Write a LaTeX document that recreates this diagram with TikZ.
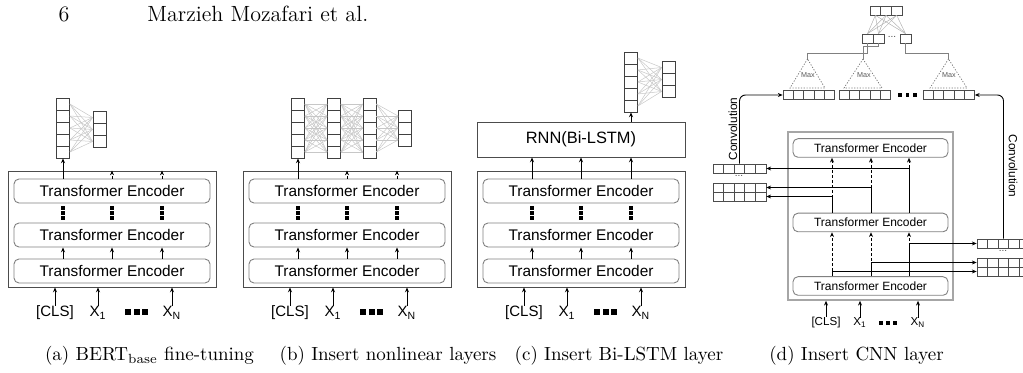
\documentclass[tikz,border=0pt]{standalone}
\usepackage{fontspec}
\newfontfamily\netfont{Liberation Sans}
\usetikzlibrary{arrows.meta}

\tikzset{
  encoder/.style={draw=black!50, rounded corners=2.5pt, minimum width=98pt,
    minimum height=12pt, inner sep=0pt, font=\netfont\fontsize{7.7}{9}\selectfont},
  smallenc/.style={encoder, minimum width=77.5pt, minimum height=9.3pt,
    font=\netfont\fontsize{6}{7}\selectfont},
  frame/.style={draw=black!70, line width=0.45pt, minimum width=104pt,
    minimum height=58pt, inner sep=0pt},
  cell/.style={draw=black!75, line width=0.4pt, minimum width=6.5pt,
    minimum height=6pt, inner sep=0pt},
  mcell/.style={draw=black!70, line width=0.35pt, minimum width=5.3pt,
    minimum height=4.5pt, inner sep=0pt},
  fcell/.style={mcell, minimum width=5.15pt},
  tcell/.style={mcell, minimum width=5.35pt},
  link/.style={draw=black!22, line width=0.25pt},
  vdot/.style={fill=black, inner sep=0pt, minimum width=1.7pt, minimum height=2pt},
  hdot/.style={fill=black, inner sep=0pt, minimum width=3pt, minimum height=2.6pt},
  sdot/.style={fill=black, inner sep=0pt, minimum width=1.8pt, minimum height=2pt},
  inlabel/.style={inner sep=0pt, font=\netfont\fontsize{7.5}{9}\selectfont},
  sinlabel/.style={inner sep=0pt, font=\netfont\fontsize{5.8}{7}\selectfont},
  convlabel/.style={inner sep=0pt, font=\netfont\fontsize{5.9}{7}\selectfont},
  maxlabel/.style={inner sep=0pt, text=black!65, font=\netfont\fontsize{3.6}{4}\selectfont},
  maxtri/.style={draw=black!55, line width=0.35pt, dash pattern=on 0.6pt off 0.8pt},
  pool/.style={draw=black!50, line width=0.4pt},
  dashline/.style={dash pattern=on 1.5pt off 1pt},
  caption/.style={inner sep=0pt, font=\fontsize{9.5}{11}\selectfont},
}

\begin{document}
\begin{tikzpicture}[x=0.5pt, y=-0.5pt, line width=0.45pt,
  >={Stealth[length=2.4pt, width=2pt]}]
\useasboundingbox (0,0) rectangle (1023,373);

% running head
\node[inner sep=0pt, font=\fontsize{11}{13}\selectfont] (pageno) at (64,14) {6};
\node[anchor=west, inner sep=0pt, font=\fontsize{11}{13}\selectfont] (runhead) at (147,14) {Marzieh Mozafari et al.};

% encoder stacks of (a), (b) and (c)
\foreach \s/\p in {8/a,243/b,477/c}{
  \begin{scope}[shift={(\s,0)}]
    \coordinate (\p-c1) at (55,0);
    \coordinate (\p-c2) at (104,0);
    \coordinate (\p-c3) at (154,0);
    \node[frame] (\p-box) at (104,229) {};
    \node[encoder] (\p-e1) at (104,271) {Transformer Encoder};
    \node[encoder] (\p-e2) at (104,235) {Transformer Encoder};
    \node[encoder] (\p-e3) at (104,191) {Transformer Encoder};
    \foreach \c in {1,2,3}{
      \draw[->] (\p-e1.north -| \p-c\c) -- (\p-e2.south -| \p-c\c);
      \foreach \d [count=\k] in {208.5,213.5,218.5}
        \node[vdot] (\p-v\c\k) at (\p-c\c |- 0,\d) {};
    }
    % inputs
    \node[inlabel] (\p-cls) at (47,313) {[CLS]};
    \node[inlabel] (\p-x1) at (90,313) {X\textsubscript{1}};
    \node[inlabel] (\p-xn) at (164,313) {X\textsubscript{N}};
    \foreach \d [count=\k] in {120,128.5,137}
      \node[hdot] (\p-h\k) at (\d,312) {};
    \foreach \i in {cls,x1,xn}
      \draw[->] (\p-\i.north) -- (\p-\i.north |- \p-box.south);
  \end{scope}
}

% (a) output layer
\foreach \i in {1,...,5}
  \node[cell] (a-l\i) at (63,92+12*\i) {};
\foreach \j in {1,2,3}
  \node[cell] (a-r\j) at (99.5,105.5+12*\j) {};
\foreach \i in {1,...,5}
  \foreach \j in {1,2,3}
    \draw[link] (a-l\i.east) -- (a-r\j.west);
\draw[->] (a-e3.north -| a-c1) -- (a-l5.south);
\foreach \c in {2,3}
  \draw[->, dashline] (a-e3.north -| a-c\c) -- (a-box.north -| a-c\c);

% (b) nonlinear layers
\foreach \v/\vx in {1/298,2/334,3/369.5}
  \foreach \i in {1,...,5}
    \node[cell] (b-v\v-\i) at (\vx,92+12*\i) {};
\foreach \j in {1,2,3}
  \node[cell] (b-o\j) at (405,104+12*\j) {};
\foreach \v/\w in {1/2,2/3}
  \foreach \i in {1,...,5}
    \foreach \j in {1,...,5}
      \draw[link] (b-v\v-\i.east) -- (b-v\w-\j.west);
\foreach \i in {1,...,5}
  \foreach \j in {1,2,3}
    \draw[link] (b-v3-\i.east) -- (b-o\j.west);
\draw[->] (b-e3.north -| b-c1) -- (b-v1-5.south);
\foreach \c in {2,3}
  \draw[->, dashline] (b-e3.north -| b-c\c) -- (b-box.north -| b-c\c);

% (c) Bi-LSTM
\node[frame, minimum height=17.5pt, font=\netfont\fontsize{8.2}{10}\selectfont] (c-rnn) at (581,139.5) {RNN(Bi-LSTM)};
\foreach \c in {1,2,3}
  \draw[->] (c-e3.north -| c-c\c) -- (c-rnn.south -| c-c\c);
\foreach \i in {1,...,5}
  \node[cell] (c-l\i) at (631,46+12*\i) {};
\foreach \j in {1,2,3}
  \node[cell] (c-r\j) at (668.5,55.5+12*\j) {};
\foreach \i in {1,...,5}
  \foreach \j in {1,2,3}
    \draw[link] (c-l\i.east) -- (c-r\j.west);
\draw[->] (c-rnn.north -| c-c3) -- (c-l5.south);

% (d) CNN
\coordinate (d-c1) at (832,0);
\coordinate (d-c2) at (871,0);
\coordinate (d-c3) at (909,0);
\node[frame, draw=black!35, line width=0.8pt, minimum width=82.5pt, minimum height=84pt] (d-box) at (870.5,216) {};
\node[smallenc] (d-e1) at (870.5,286) {Transformer Encoder};
\node[smallenc] (d-e2) at (870.5,222.5) {Transformer Encoder};
\node[smallenc] (d-e3) at (870.5,148) {Transformer Encoder};
\foreach \c in {1,2,3}{
  \draw[->, dashline] (d-e2.north -| d-c\c) -- (d-e3.south -| d-c\c);
  \draw[->, dashline] (d-e1.north -| d-c\c) -- (d-e2.south -| d-c\c);
}

% token matrices
\foreach \k in {1,...,5}{
  \node[mcell] (lmA-\k) at (707.7+10.6*\k,168.5) {};
  \node[mcell] (lmB1-\k) at (707.7+10.6*\k,187.5) {};
  \node[mcell] (lmB2-\k) at (707.7+10.6*\k,196.5) {};
  \node[mcell] (rmA-\k) at (971.7+10.6*\k,243.5) {};
  \node[mcell] (rmB1-\k) at (971.7+10.6*\k,262.5) {};
  \node[mcell] (rmB2-\k) at (971.7+10.6*\k,271.5) {};
}
\node[maxlabel, text=black!70, font=\netfont\fontsize{5}{5}\selectfont] (lmdots) at (739,176) {...};
\node[maxlabel, text=black!70, font=\netfont\fontsize{5}{5}\selectfont] (rmdots) at (1003,251) {...};

\draw[->] (d-e2.north -| d-c3) |- (lmA-5.east);
\draw[->] (d-e2.north -| d-c2) |- (lmB1-5.east);
\draw[->] (d-e2.north -| d-c1) |- (lmB2-5.east);
\draw[->] (d-e1.north -| d-c3) |- (rmA-1.west);
\draw[->] (d-e1.north -| d-c2) |- (rmB1-1.west);
\draw[->] (d-e1.north -| d-c1) |- (rmB2-1.west);

% feature maps
\foreach \k in {1,...,5}{
  \node[fcell] (m1-\k) at (777.85+10.3*\k,95) {};
  \node[fcell] (m2-\k) at (833.85+10.3*\k,95) {};
  \node[fcell] (m3-\k) at (917.85+10.3*\k,95) {};
}
\foreach \d [count=\k] in {900,907.5,915}
  \node[sdot] (md\k) at (\d,95) {};

\draw[->, rounded corners=3pt] (lmA-3.north) |- (m1-1.west);
\draw[->, rounded corners=3pt] (rmA-3.north) |- (m3-5.east);
\node[convlabel, rotate=90] (convl) at (733,129) {Convolution};
\node[convlabel, rotate=-90] (convr) at (1013,166) {Convolution};

% max pooling
\coordinate (t1) at (807.5,59);
\coordinate (t2) at (863,59);
\coordinate (t3) at (948.5,59);
\draw[maxtri] (t1) -- (790,88) -- (825,88) -- cycle;
\draw[maxtri] (t2) -- (844,88) -- (882,88) -- cycle;
\draw[maxtri] (t3) -- (930,88) -- (967,88) -- cycle;
\node[maxlabel] (max1) at (808,75) {Max};
\node[maxlabel] (max2) at (864,75) {Max};
\node[maxlabel] (max3) at (949,75) {Max};

\node[mcell, minimum width=5.5pt] (pa) at (867.5,38.5) {};
\node[mcell, minimum width=5.5pt] (pb) at (878.5,38.5) {};
\node[mcell, minimum width=5.5pt] (pc) at (905.5,38.5) {};
\node[maxlabel, text=black!70, font=\netfont\fontsize{5}{5}\selectfont] (pdots) at (892,37) {...};
\draw[pool] (t1) -- ++(0,-5.7) -| (pa.south);
\draw[pool] (t2) -- ++(0,-12.3) -| (pb.south);
\draw[pool] (t3) -- ++(0,-5.7) -| (pc.south);

\foreach \k in {1,2,3}
  \node[tcell] (top-\k) at (864.65+10.7*\k,10.5) {};
\foreach \k in {1,2,3}
  \foreach \q in {pa,pb,pc}
    \draw[link, draw=black!30] (top-\k.south) -- (\q.north);

% inputs of (d)
\node[sinlabel] (d-cls) at (826,323) {[CLS]};
\node[sinlabel] (d-x1) at (860,323) {X\textsubscript{1}};
\node[sinlabel] (d-xn) at (918,323) {X\textsubscript{N}};
\foreach \d [count=\k] in {881,888,895}
  \node[sdot] (d-h\k) at (\d,323) {};
\foreach \i in {cls,x1,xn}
  \draw[->] (d-\i.north) -- (d-\i.north |- d-box.south);

% captions
\node[caption] (capa) at (149.5,356) {(a) BERT\textsubscript{base} fine-tuning};
\node[caption] (capb) at (388,356) {(b) Insert nonlinear layers};
\node[caption] (capc) at (619,356) {(c) Insert Bi-LSTM layer};
\node[caption] (capd) at (856.5,356) {(d) Insert CNN layer};

\end{tikzpicture}
\end{document}
